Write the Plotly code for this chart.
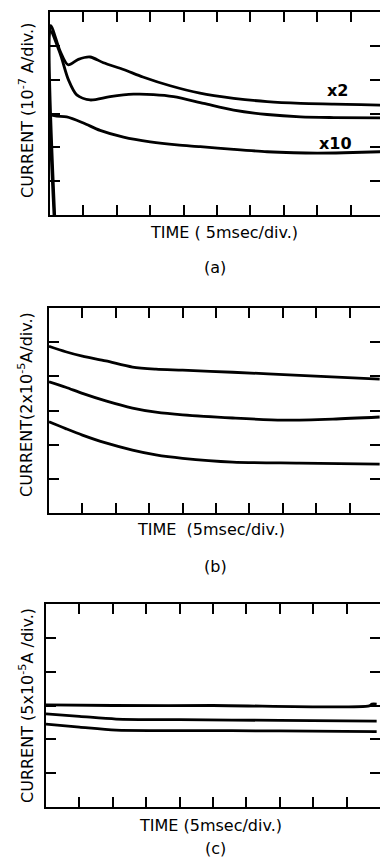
import plotly.graph_objects as go

# ---------------- data (divisions) ----------------
# Panel (a)
a_top_x = [0.14, 0.02, 0.3, 0.54, 0.85, 1.2, 1.6, 2.2, 2.78, 3.6, 4.49, 5.5, 6.5, 7.5, 8.5, 9.3, 9.9]
a_top_y = [0.0, 5.6, 4.85, 4.44, 4.6, 4.67, 4.5, 4.3, 4.08, 3.82, 3.6, 3.45, 3.35, 3.3, 3.28, 3.26, 3.25]
a_mid_x = [0.12, 0.0, 0.3, 0.55, 0.8, 1.2, 1.8, 2.5, 3.1, 3.7, 4.6, 5.5, 6.5, 7.5, 8.5, 9.9]
a_mid_y = [0.0, 5.45, 4.78, 4.0, 3.55, 3.4, 3.5, 3.57, 3.56, 3.5, 3.3, 3.1, 2.97, 2.9, 2.88, 2.87]
a_low_x = [0.0, 0.2, 0.5, 1.0, 1.5, 2.2, 3.0, 3.8, 4.5, 5.5, 6.5, 7.3, 8.0, 8.8, 9.9]
a_low_y = [2.96, 2.92, 2.9, 2.72, 2.5, 2.3, 2.16, 2.07, 2.02, 1.94, 1.87, 1.84, 1.83, 1.84, 1.87]

# Panel (b)
b_top_x = [0.0, 0.5, 1.0, 1.7, 2.5, 3.2, 4.0, 5.5, 7.5, 9.9]
b_top_y = [4.88, 4.72, 4.59, 4.45, 4.27, 4.21, 4.18, 4.12, 4.03, 3.92]
b_mid_x = [0.0, 0.5, 1.0, 1.7, 2.5, 3.2, 4.0, 5.5, 7.0, 8.5, 9.9]
b_mid_y = [3.84, 3.68, 3.5, 3.28, 3.07, 2.95, 2.87, 2.78, 2.72, 2.75, 2.81]
b_low_x = [0.0, 0.5, 1.0, 1.7, 2.5, 3.2, 4.0, 5.5, 7.5, 9.9]
b_low_y = [2.67, 2.47, 2.28, 2.05, 1.84, 1.7, 1.6, 1.49, 1.46, 1.43]

# Panel (c)
c_top_x = [0.0, 2.0, 5.0, 9.68, 9.76, 9.9]
c_top_y = [3.02, 3.0, 3.0, 2.99, 3.04, 3.04]
c_mid_x = [0.0, 1.0, 2.1, 4.0, 7.0, 9.9]
c_mid_y = [2.75, 2.68, 2.6, 2.58, 2.56, 2.54]
c_low_x = [0.0, 1.0, 2.1, 4.0, 7.0, 9.9]
c_low_y = [2.45, 2.36, 2.27, 2.26, 2.25, 2.23]

y_titles = ["CURRENT (10<sup>-7</sup> A/div.)",
            "CURRENT(2x10<sup>-5</sup>A/div.)",
            "CURRENT (5x10<sup>-5</sup>A /div.)"]
x_titles = ["TIME ( 5msec/div.)", "TIME  (5msec/div.)", "TIME (5msec/div.)"]
panel_labels = ["(a)", "(b)", "(c)"]
gain_labels = ["x2", "x10"]
gain_pos = [(8.6, 3.67), (8.55, 2.1)]

# ---------------- layout geometry ----------------
W, H = 380, 857
FONT = "DejaVu Sans"
panels = [
    dict(left=50, top=12, bottom=215, xt=232, lab=267, yt=111),
    dict(left=49, top=308, bottom=513, xt=529, lab=566, yt=405),
    dict(left=46, top=604, bottom=807, xt=825, lab=848, yt=706),
]
PX_PER_DIV = 33.4

series = [
    [(a_top_x, a_top_y), (a_mid_x, a_mid_y), (a_low_x, a_low_y)],
    [(b_top_x, b_top_y), (b_mid_x, b_mid_y), (b_low_x, b_low_y)],
    [(c_top_x, c_top_y), (c_mid_x, c_mid_y), (c_low_x, c_low_y)],
]
x_title_cx = [224, 211, 210]

fig = go.Figure()
annotations = []
for i, p in enumerate(panels):
    n = i + 1
    xa = "x" if n == 1 else f"x{n}"
    ya = "y" if n == 1 else f"y{n}"
    yr = f"y{n + 3}"
    xr_max = (W - p["left"]) / PX_PER_DIV
    for sx, sy in series[i]:
        fig.add_trace(go.Scatter(x=sx, y=sy, mode="lines", xaxis=xa, yaxis=ya,
                                 line=dict(color="black", width=2.8, shape="spline", smoothing=0.8),
                                 showlegend=False, hoverinfo="skip"))
    dom_x = [p["left"] / W, 1.0]
    dom_y = [1 - p["bottom"] / H, 1 - p["top"] / H]
    xkey = "xaxis" if n == 1 else f"xaxis{n}"
    ykey = "yaxis" if n == 1 else f"yaxis{n}"
    fig.update_layout({
        xkey: dict(domain=dom_x, range=[0, xr_max], anchor=ya, dtick=1, tick0=0,
                   ticks="inside", ticklen=10, tickwidth=2, tickcolor="black",
                   showline=True, linewidth=2, linecolor="black", mirror="ticks",
                   showgrid=False, zeroline=False, showticklabels=False),
        ykey: dict(domain=dom_y, range=[0, 6], anchor=xa, dtick=1, tick0=0,
                   ticks="inside", ticklen=10, tickwidth=2, tickcolor="black",
                   showline=True, linewidth=2, linecolor="black", mirror=False,
                   showgrid=False, zeroline=False, showticklabels=False),
        f"yaxis{n + 3}": dict(domain=dom_y, range=[0, 6], overlaying=ya, side="right",
                              anchor=xa, dtick=1, tick0=0, ticks="inside", ticklen=10,
                              tickwidth=2, tickcolor="black", showline=False,
                              showgrid=False, zeroline=False, showticklabels=False),
    })
    fig.add_trace(go.Scatter(x=[None], y=[None], xaxis=xa, yaxis=yr, showlegend=False,
                             hoverinfo="skip"))
    annotations.append(dict(text=y_titles[i], x=26 / W, y=1 - p["yt"] / H, xref="paper", yref="paper",
                            textangle=-90, showarrow=False,
                            font=dict(family=FONT, size=16, color="black"),
                            xanchor="center", yanchor="middle"))
    annotations.append(dict(text=x_titles[i], x=x_title_cx[i] / W, y=1 - p["xt"] / H,
                            xref="paper", yref="paper", showarrow=False,
                            font=dict(family=FONT, size=16, color="black"),
                            xanchor="center", yanchor="middle"))
    annotations.append(dict(text=panel_labels[i], x=215 / W, y=1 - p["lab"] / H,
                            xref="paper", yref="paper", showarrow=False,
                            font=dict(family=FONT, size=16, color="black"),
                            xanchor="center", yanchor="middle"))

for lab, (gx, gy) in zip(gain_labels, gain_pos):
    annotations.append(dict(text=f"<b>{lab}</b>", x=gx, y=gy, xref="x", yref="y",
                            showarrow=False, font=dict(family=FONT, size=16, color="black"),
                            xanchor="center", yanchor="middle"))

fig.update_layout(width=W, height=H, margin=dict(l=0, r=0, t=0, b=0),
                  paper_bgcolor="white", plot_bgcolor="white",
                  annotations=annotations, showlegend=False)

fig.write_html("out.html", config={"displayModeBar": False},
               post_script="document.body.style.margin='0';document.body.style.overflow='hidden';")
